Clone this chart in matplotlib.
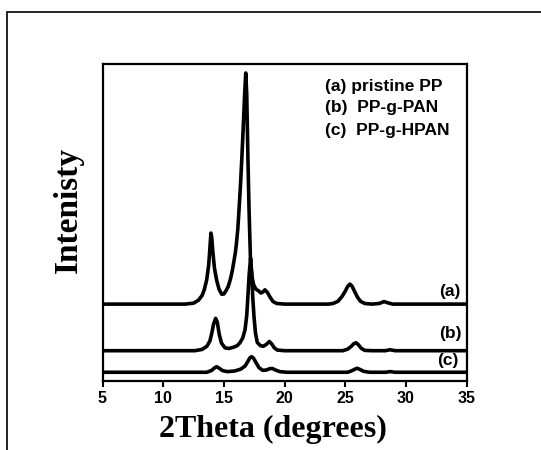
import numpy as np
import matplotlib
matplotlib.use("Agg")
import matplotlib.pyplot as plt
from matplotlib.patches import Rectangle

# values (y in % of axis height)
a_x = [5.0, 11.8, 12.5, 12.9, 13.2, 13.38, 13.58, 13.75, 13.86, 13.93, 14.0, 14.08, 14.22, 14.41,
       14.6, 14.82, 15.0, 15.17, 15.35, 15.54, 15.7, 15.82, 15.95, 16.04, 16.15, 16.24, 16.35,
       16.47, 16.6, 16.71, 16.8, 16.88, 16.98, 17.07, 17.19, 17.3, 17.45, 17.64, 17.85, 18.05,
       18.2, 18.38, 18.6, 18.8, 19.05, 19.35, 20.0, 23.6, 24.0, 24.4, 24.75, 25.0, 25.2, 25.38,
       25.55, 25.75, 26.0, 26.25, 26.6, 27.2, 27.8, 28.2, 28.5, 28.9, 35.0]
a_y = [24.1, 24.1, 24.4, 25.3, 26.8, 28.6, 31.7, 36.5, 42.5, 46.5, 45.0, 41.0, 35.5, 31.5,
       28.8, 27.2, 27.3, 28.3, 29.6, 32.0, 34.8, 37.5, 40.5, 43.5, 48.0, 53.5, 60.5,
       69.5, 80.5, 90.5, 97.0, 90.5, 70.0, 54.0, 38.0, 33.0, 30.2, 28.8, 28.3, 27.6,
       27.9, 28.6, 27.7, 26.3, 24.9, 24.3, 24.1, 24.1, 24.3, 25.0, 26.6, 28.2, 29.7, 30.4,
       29.8, 28.2, 26.3, 25.0, 24.3, 24.1, 24.3, 24.9, 24.5, 24.1, 24.1]

b_x = [5.0, 12.6, 13.2, 13.6, 13.85, 14.0, 14.15, 14.32, 14.45, 14.62, 14.8, 15.09, 15.4, 15.8,
       16.1, 16.32, 16.55, 16.74, 16.88, 16.96, 17.08, 17.2, 17.3, 17.38, 17.48, 17.6, 17.75,
       18.0, 18.25, 18.5, 18.74, 18.95, 19.15, 19.4, 20.0, 24.8, 25.2, 25.5, 25.7, 25.88, 26.05,
       26.3, 26.6, 27.2, 28.3, 28.68, 29.1, 35.0]
b_y = [9.4, 9.4, 9.8, 10.8, 12.5, 14.9, 17.8, 19.6, 18.5, 14.5, 11.8, 10.3, 10.1, 10.5,
       11.0, 11.9, 13.4, 16.0, 20.5, 25.4, 33.5, 38.5, 33.5, 26.0, 20.1, 15.0, 12.0,
       11.0, 10.8, 11.4, 12.3, 11.5, 10.3, 9.6, 9.4, 9.4, 9.9, 10.8, 11.6, 11.9, 11.4,
       10.2, 9.5, 9.4, 9.4, 9.7, 9.4, 9.4]

c_x = [5.0, 13.6, 14.0, 14.2, 14.4, 14.6, 14.9, 15.3, 15.9, 16.4, 16.75, 17.0, 17.15, 17.29,
       17.45, 17.65, 17.9, 18.2, 18.5, 18.75, 18.99, 19.25, 19.6, 20.2, 25.2, 25.55, 25.8, 25.99,
       26.2, 26.5, 27.0, 28.3, 28.7, 29.1, 35.0]
c_y = [2.6, 2.6, 3.2, 3.9, 4.35, 3.9, 3.1, 2.8, 3.0, 3.6, 4.6, 6.2, 7.2, 7.5,
       7.0, 5.6, 4.0, 3.2, 3.3, 3.7, 3.8, 3.3, 2.8, 2.6, 2.6, 3.1, 3.6, 3.85,
       3.5, 2.9, 2.6, 2.6, 2.8, 2.6, 2.6]

curve_tags = ["(a)", "(b)", "(c)"]
legend_lines = ["(a) pristine PP", "(b)  PP-g-PAN", "(c)  PP-g-HPAN"]
xticks = [5, 10, 15, 20, 25, 30, 35]

W, H = 541, 450
fig = plt.figure(figsize=(W / 100, H / 100), dpi=100)
ax = fig.add_axes([102.5 / W, 1 - 380.5 / H, 364.2 / W, 317 / H])

# outer frame (right and bottom edges fall outside the image)
fig.patches.append(Rectangle((6.7 / W, -0.1), 1.0, 1.1 - 12.3 / H, transform=fig.transFigure,
                             fill=False, edgecolor="black", linewidth=1.2))

for xs, ys in [(a_x, a_y), (b_x, b_y), (c_x, c_y)]:
    ax.plot(xs, ys, color="black", linewidth=2.6, solid_joinstyle="round", solid_capstyle="butt")

ax.set_xlim(5, 35)
ax.set_ylim(0, 100)
ax.set_xticks(xticks)
ax.set_xticklabels([str(t) for t in xticks], fontfamily="Liberation Sans", fontweight="bold", fontsize=11.5)
ax.set_yticks([])
ax.tick_params(axis="x", direction="out", length=4, width=1.5, pad=3.5)
for s in ax.spines.values():
    s.set_linewidth(1.6)

# curve tags
tag_pos = [(34.53, 28.0), (34.6, 14.9), (34.31, 6.25)]
for t, (x, y) in zip(curve_tags, tag_pos):
    ax.text(x, y, t, ha="right", va="center", fontfamily="Liberation Sans",
            fontweight="bold", fontsize=12.5)

legend_y = [0.927, 0.86, 0.79]
for line, y in zip(legend_lines, legend_y):
    ax.text(0.611, y, line, transform=ax.transAxes, ha="left", va="center",
            fontfamily="Liberation Sans", fontweight="bold", fontsize=12.5)

fig.text(68 / W, 1 - 210 / H, "Intenisty", rotation=90, ha="center", va="center",
         fontfamily="Liberation Serif", fontweight="bold", fontsize=24)
fig.text(273 / W, 1 - 429 / H, "2Theta (degrees)", ha="center", va="center",
         fontfamily="Liberation Serif", fontweight="bold", fontsize=23)

fig.savefig("out.png", dpi=100)
